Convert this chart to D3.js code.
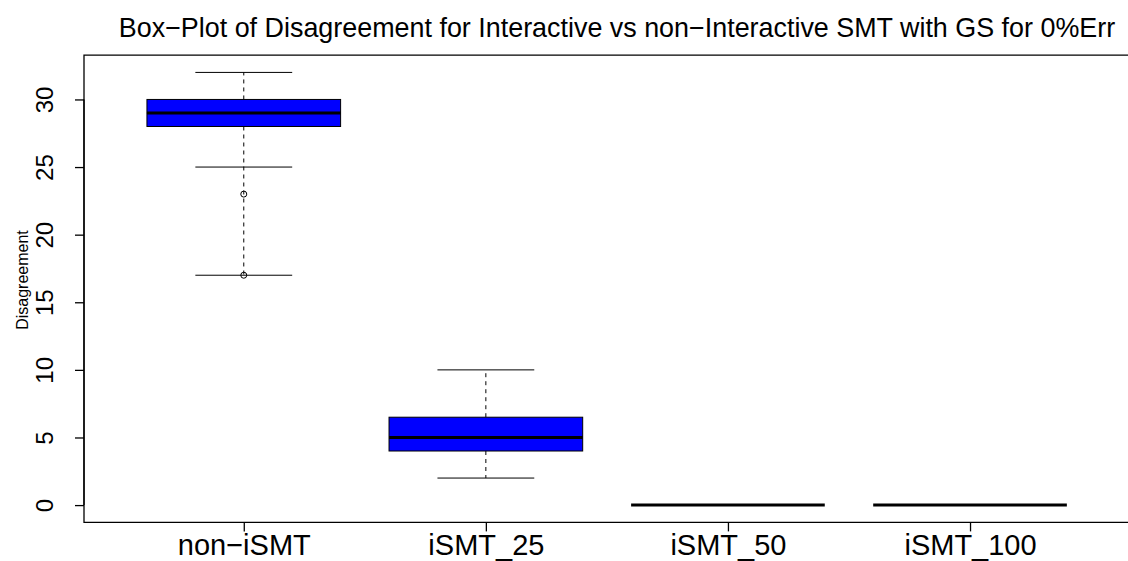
<!DOCTYPE html>
<html>
<head>
<meta charset="utf-8">
<script src="https://cdn.jsdelivr.net/npm/d3@7"></script>
<style>
  html, body { margin: 0; padding: 0; background: #fff; overflow: hidden; }
  svg { display: block; font-family: "Liberation Sans", Arial, Helvetica, sans-serif; }
</style>
</head>
<body>
<svg id="chart" width="1128" height="561"></svg>
<script>
// Groups and their five-number summaries
const categories = ["non\u2212iSMT", "iSMT_25", "iSMT_50", "iSMT_100"];
const whiskerMin = [17, 2, 0, 0];      // lowest whisker end
const lowerFence = [25, 2, 0, 0];      // inner lower staple
const q1Values = [28, 4, 0, 0];
const medianValues = [29, 5, 0, 0];
const q3Values = [30, 6.5, 0, 0];
const whiskerMax = [32, 10, 0, 0];
const outlierValues = [[23, 17], [], [], []];
const yTicks = [0, 5, 10, 15, 20, 25, 30];

const titleText = "Box\u2212Plot of Disagreement for Interactive vs non\u2212Interactive SMT with GS for 0%Err";
const yLabel = "Disagreement";

const svg = d3.select("#chart");
const W = 1128;

const plot = { left: 84, right: 1129.8, top: 55.1, bottom: 522.4 };

const x = d3.scaleLinear().domain([0.34, 4.66]).range([plot.left, plot.right]);
const y = d3.scaleLinear().domain([-1.28, 33.28]).range([plot.bottom, plot.top]);

const boxHalf = 0.4, stapleHalf = 0.2;

const groups = categories.map((c, i) => ({
  name: c, pos: i + 1,
  min: whiskerMin[i], fence: lowerFence[i], q1: q1Values[i], med: medianValues[i],
  q3: q3Values[i], max: whiskerMax[i], out: outlierValues[i]
}));

const g = svg.append("g");

// whiskers (dashed)
g.selectAll(".whisker-up").data(groups).join("line")
  .attr("x1", d => x(d.pos)).attr("x2", d => x(d.pos))
  .attr("y1", d => y(d.q3)).attr("y2", d => y(d.max))
  .attr("stroke", "#000").attr("stroke-width", 1).attr("stroke-dasharray", "4,4");
g.selectAll(".whisker-down").data(groups).join("line")
  .attr("x1", d => x(d.pos)).attr("x2", d => x(d.pos))
  .attr("y1", d => y(d.q1)).attr("y2", d => y(d.min))
  .attr("stroke", "#000").attr("stroke-width", 1).attr("stroke-dasharray", "4,4");

// staples
const stapleRows = [];
groups.forEach(d => {
  stapleRows.push({ pos: d.pos, v: d.max });
  stapleRows.push({ pos: d.pos, v: d.min });
  if (d.fence !== d.min) stapleRows.push({ pos: d.pos, v: d.fence });
});
g.selectAll(".staple").data(stapleRows).join("line")
  .attr("x1", d => x(d.pos - stapleHalf)).attr("x2", d => x(d.pos + stapleHalf))
  .attr("y1", d => y(d.v)).attr("y2", d => y(d.v))
  .attr("stroke", "#000").attr("stroke-width", 1);

// boxes
g.selectAll(".box").data(groups).join("rect")
  .attr("x", d => x(d.pos - boxHalf))
  .attr("width", d => x(d.pos + boxHalf) - x(d.pos - boxHalf))
  .attr("y", d => y(d.q3))
  .attr("height", d => y(d.q1) - y(d.q3))
  .attr("fill", "#0000ff").attr("stroke", "#000").attr("stroke-width", 1);

// medians
g.selectAll(".median").data(groups).join("line")
  .attr("x1", d => x(d.pos - boxHalf)).attr("x2", d => x(d.pos + boxHalf))
  .attr("y1", d => y(d.med)).attr("y2", d => y(d.med))
  .attr("stroke", "#000").attr("stroke-width", 3);

// outliers
const outRows = groups.flatMap(d => d.out.map(v => ({ pos: d.pos, v })));
g.selectAll(".outlier").data(outRows).join("circle")
  .attr("cx", d => x(d.pos)).attr("cy", d => y(d.v)).attr("r", 3)
  .attr("fill", "none").attr("stroke", "#000").attr("stroke-width", 1);

// plot frame: left, top and bottom sides (right side lies past the page edge)
svg.append("path")
  .attr("d", `M${W},${plot.top}H${plot.left}V${plot.bottom}H${W}`)
  .attr("fill", "none").attr("stroke", "#000").attr("stroke-width", 1.3);

// y axis
const yAxis = svg.append("g")
  .attr("transform", `translate(${plot.left},0)`)
  .call(d3.axisLeft(y).tickValues(yTicks).tickSize(9).tickPadding(0).tickFormat(d3.format("d")));
yAxis.select(".domain").attr("d", `M-0,${y(0)}V${y(30)}`).attr("stroke-width", 1.3);
yAxis.selectAll(".tick line").attr("stroke-width", 1.3);
yAxis.selectAll(".tick text")
  .attr("x", null).attr("dy", null)
  .attr("transform", "translate(-31,0) rotate(-90)")
  .attr("text-anchor", "middle")
  .attr("font-size", 24).attr("fill", "#000")
  .style("font-family", "'Liberation Sans', Arial, sans-serif");

// x axis
const xAxis = svg.append("g")
  .attr("transform", `translate(0,${plot.bottom})`)
  .call(d3.axisBottom(x).tickValues([1, 2, 3, 4]).tickSize(9)
    .tickFormat((d, i) => categories[i]));
xAxis.select(".domain").remove();
xAxis.selectAll(".tick line").attr("stroke-width", 1.3);
xAxis.selectAll(".tick text")
  .attr("y", 32.5).attr("dy", null)
  .attr("font-size", 29).attr("fill", "#000")
  .style("font-family", "'Liberation Sans', Arial, sans-serif");

// y label
svg.append("text")
  .attr("transform", "translate(28,280) rotate(-90)")
  .attr("text-anchor", "middle")
  .attr("font-size", 16)
  .text(yLabel);

// title
svg.append("text")
  .attr("x", 617)
  .attr("y", 36.5)
  .attr("text-anchor", "middle")
  .attr("font-size", 26.9)
  .text(titleText);
</script>
</body>
</html>
